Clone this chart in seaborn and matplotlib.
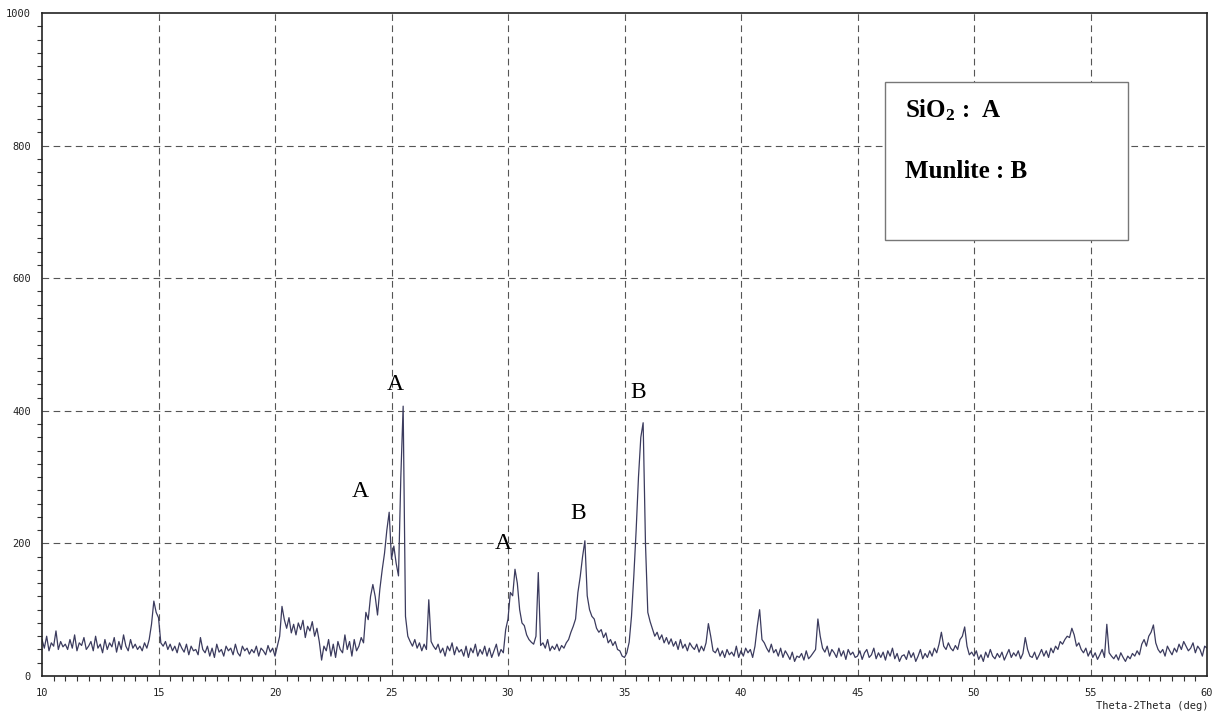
import numpy as np
import pandas as pd
import matplotlib
matplotlib.use("Agg")
import matplotlib.pyplot as plt
import seaborn as sns
from matplotlib.ticker import MultipleLocator

# 2-theta start of each row (0.1 deg steps within a row)
row_start = list(range(10, 60))

# intensities, one row per degree (x.0 ... x.9)
rows = [
    [55, 42, 60, 38, 50, 45, 68, 40, 52, 44],        # 10
    [48, 40, 55, 42, 62, 38, 50, 46, 58, 40],        # 11
    [45, 52, 38, 60, 42, 48, 35, 55, 40, 50],        # 12
    [44, 58, 36, 52, 40, 62, 45, 38, 55, 42],        # 13
    [48, 40, 45, 38, 50, 42, 55, 78, 113, 96],       # 14
    [88, 50, 45, 52, 40, 48, 38, 45, 35, 50],        # 15
    [42, 36, 48, 32, 45, 38, 40, 32, 58, 40],        # 16
    [35, 45, 30, 42, 28, 48, 36, 40, 30, 45],        # 17
    [38, 42, 32, 48, 35, 30, 45, 38, 42, 33],        # 18
    [40, 35, 45, 30, 42, 38, 32, 46, 36, 42],        # 19
    [30, 45, 60, 105, 85, 72, 88, 65, 78, 62],       # 20
    [80, 70, 84, 58, 75, 68, 82, 60, 72, 52],        # 21
    [24, 45, 38, 55, 30, 48, 28, 52, 40, 35],        # 22
    [62, 40, 52, 30, 55, 38, 45, 58, 50, 96],        # 23
    [85, 120, 138, 120, 92, 131, 160, 185, 220, 247],  # 24
    [176, 196, 170, 151, 300, 407, 90, 60, 52, 45],  # 25
    [55, 42, 50, 38, 48, 40, 115, 52, 45, 40],       # 26
    [48, 35, 42, 30, 45, 38, 50, 32, 44, 36],        # 27
    [40, 30, 45, 28, 42, 35, 48, 30, 40, 33],        # 28
    [45, 30, 42, 28, 38, 48, 30, 40, 35, 70],        # 29
    [86, 126, 121, 161, 140, 100, 80, 76, 62, 55],   # 30
    [51, 48, 60, 156, 46, 50, 42, 55, 38, 45],       # 31
    [40, 48, 38, 46, 42, 50, 55, 66, 75, 86],        # 32
    [126, 150, 180, 204, 121, 100, 90, 86, 72, 66],  # 33
    [70, 58, 65, 50, 55, 46, 52, 40, 38, 30],        # 34
    [28, 35, 51, 90, 151, 220, 300, 360, 382, 200],  # 35
    [96, 82, 71, 60, 66, 55, 62, 50, 58, 48],        # 36
    [56, 45, 52, 40, 55, 42, 48, 38, 50, 44],        # 37
    [40, 48, 36, 45, 38, 50, 79, 60, 38, 35],        # 38
    [42, 30, 38, 28, 40, 32, 36, 30, 45, 28],        # 39
    [38, 30, 42, 35, 40, 28, 45, 75, 100, 55],       # 40
    [50, 42, 36, 48, 35, 40, 30, 42, 28, 38],        # 41
    [32, 25, 36, 22, 30, 28, 34, 24, 38, 26],        # 42
    [30, 35, 40, 86, 60, 42, 36, 45, 30, 40],        # 43
    [35, 28, 42, 30, 38, 25, 40, 32, 36, 28],        # 44
    [30, 38, 25, 35, 40, 28, 32, 42, 26, 35],        # 45
    [28, 36, 24, 38, 30, 42, 26, 34, 22, 30],        # 46
    [32, 25, 38, 28, 35, 22, 30, 40, 26, 34],        # 47
    [28, 38, 30, 42, 35, 48, 66, 45, 40, 50],        # 48
    [42, 38, 46, 40, 55, 60, 74, 45, 32, 36],        # 49
    [30, 38, 25, 32, 22, 36, 28, 40, 30, 26],        # 50
    [34, 28, 36, 24, 32, 40, 28, 35, 30, 38],        # 51
    [26, 34, 58, 40, 30, 28, 36, 25, 32, 40],        # 52
    [30, 38, 28, 42, 35, 45, 40, 52, 48, 55],        # 53
    [60, 58, 72, 62, 45, 50, 40, 35, 42, 30],        # 54
    [38, 28, 35, 25, 32, 40, 28, 78, 35, 30],        # 55
    [26, 32, 24, 35, 28, 22, 30, 26, 34, 30],        # 56
    [38, 32, 48, 55, 45, 60, 66, 77, 50, 40],        # 57
    [35, 40, 30, 45, 38, 32, 42, 36, 48, 40],        # 58
    [52, 45, 38, 42, 50, 35, 45, 40, 30, 45],        # 59
]
last_point = (60.0, 42)

# peak labels: (2theta, intensity, phase letter)
peak_x = [25.15, 23.65, 29.8, 33.0, 35.6]
peak_y = [440, 278, 200, 245, 428]
peak_lab = ["A", "A", "A", "B", "B"]

legend_lines = ["SiO$_2$ :  A", "Munlite : B"]

x_ticks = [10, 15, 20, 25, 30, 35, 40, 45, 50, 55, 60]
y_ticks = [0, 200, 400, 600, 800, 1000]

# build table
two_theta, counts = [], []
for start, vals in zip(row_start, rows):
    for i, v in enumerate(vals):
        two_theta.append(round(start + i / 10, 1))
        counts.append(v)
two_theta.append(last_point[0])
counts.append(last_point[1])
df = pd.DataFrame({"two_theta": two_theta, "counts": counts})

sns.set_theme(style="white")
plt.rcParams["font.family"] = ["DejaVu Sans Mono", "DejaVu Sans"]
plt.rcParams["mathtext.fontset"] = "custom"
plt.rcParams["mathtext.rm"] = "Liberation Serif:bold"
plt.rcParams["mathtext.it"] = "Liberation Serif:bold"
plt.rcParams["mathtext.bf"] = "Liberation Serif:bold"

fig = plt.figure(figsize=(12.13, 7.15), dpi=100)
ax = fig.add_axes([42 / 1213, 1 - 676 / 715, (1207 - 42) / 1213, (676 - 13) / 715])

sns.lineplot(data=df, x="two_theta", y="counts", ax=ax, color="#3b3b5e", linewidth=0.9)

ax.set_xlim(10, 60)
ax.set_ylim(0, 1000)
ax.set_xticks(x_ticks)
ax.set_yticks(y_ticks)
ax.xaxis.set_minor_locator(MultipleLocator(0.5))
ax.yaxis.set_minor_locator(MultipleLocator(20))
ax.tick_params(axis="both", which="major", direction="out", width=1,
               color="#333333", labelsize=7.5, labelcolor="#222222")
ax.tick_params(axis="x", which="major", length=6, pad=3)
ax.tick_params(axis="y", which="major", length=7.5, pad=0.5)
ax.tick_params(axis="both", which="minor", direction="out", length=3.5, width=0.8,
               color="#333333", bottom=True, left=True)
ax.set_xlabel("")
ax.set_ylabel("")

for s in ax.spines.values():
    s.set_visible(True)
    s.set_color("#222222")
    s.set_linewidth(1.2)

# dashed grid at interior majors
for xv in x_ticks[1:-1]:
    ax.axvline(xv, color="#555555", linewidth=0.8, linestyle=(0, (6, 4)), zorder=0)
for yv in y_ticks[1:-1]:
    ax.axhline(yv, color="#555555", linewidth=0.8, linestyle=(0, (6, 4)), zorder=0)

for px, py, lab in zip(peak_x, peak_y, peak_lab):
    ax.text(px, py, lab, fontsize=17, family="Liberation Serif", color="black",
            ha="center", va="center")

# phase key box
box = plt.Rectangle((885 / 1213, 1 - 240 / 715), (1128 - 885) / 1213, (240 - 82) / 715,
                    transform=fig.transFigure, facecolor="white", edgecolor="#777777",
                    linewidth=1.0, zorder=5)
fig.patches.append(box)
fig.text(905 / 1213, 1 - 117 / 715, legend_lines[0], fontsize=18, family="Liberation Serif",
         weight="bold", color="black", ha="left", va="baseline", zorder=6)
fig.text(905 / 1213, 1 - 178 / 715, legend_lines[1], fontsize=18, family="Liberation Serif",
         weight="bold", color="black", ha="left", va="baseline", zorder=6)

fig.text(1209 / 1213, 1 - 706 / 715, "Theta-2Theta (deg)", fontsize=7.5, color="#222222",
         ha="right", va="center")

fig.savefig("out.png", dpi=100, facecolor="white")
